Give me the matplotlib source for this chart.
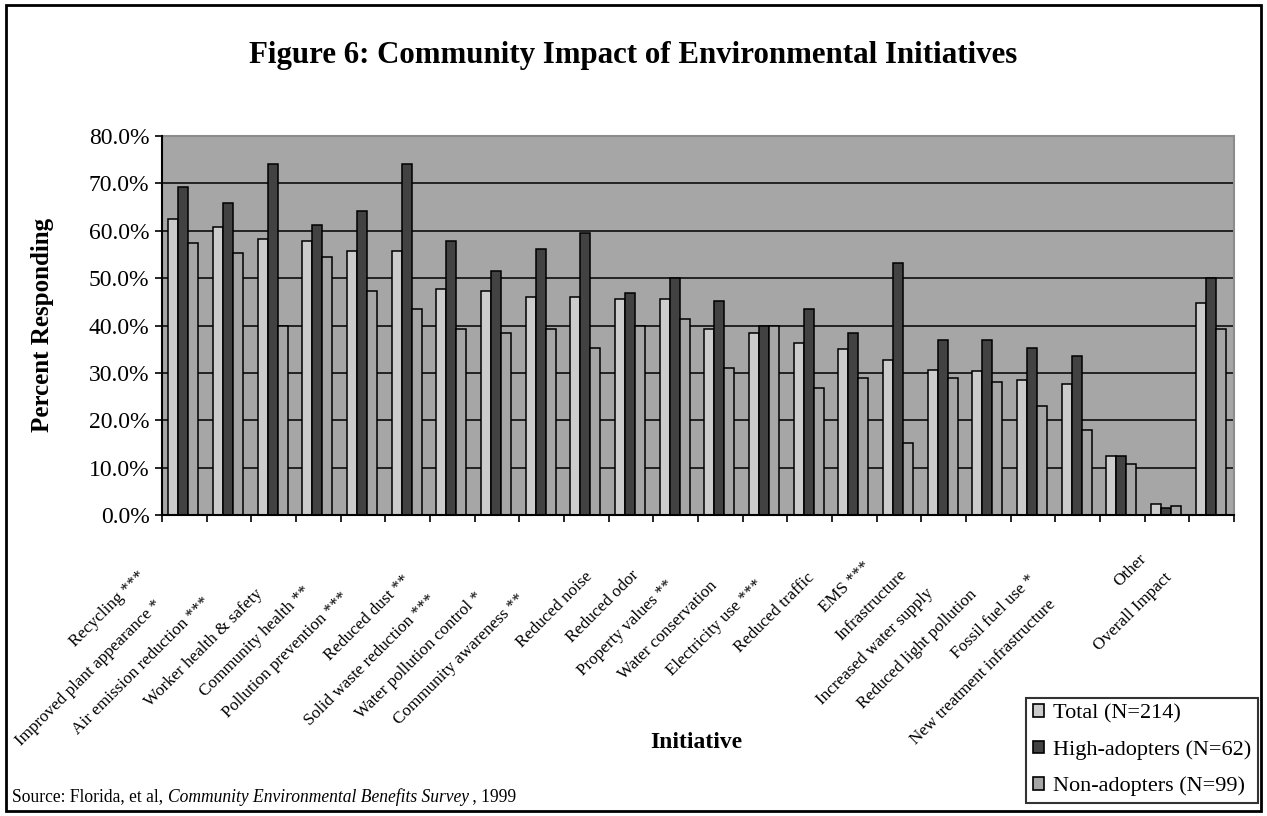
import numpy as np
import matplotlib
matplotlib.use("Agg")
import matplotlib.pyplot as plt
from matplotlib.patches import Patch, Rectangle

plt.rcParams['font.family'] = ['Liberation Serif', 'DejaVu Serif']

# Dados
categorias = ["Recycling ***", "Improved plant appearance *", "Air emission reduction ***",
              "Worker health & safety", "Community health **", "Pollution prevention ***",
              "Reduced dust **", "Solid waste reduction ***", "Water pollution control *",
              "Community awareness **", "Reduced noise", "Reduced odor", "Property values **",
              "Water conservation", "Electricity use ***", "Reduced traffic", "EMS ***",
              "Infrastructure", "Increased water supply", "Reduced light pollution",
              "Fossil fuel use *", "New treatment infrastructure", "Other", "Overall Impact"]
total = [62.5, 60.8, 58.3, 57.9, 55.8, 55.8, 47.6, 47.2, 46.0, 46.0, 45.6, 45.6,
         39.2, 38.4, 36.3, 35.0, 32.8, 30.7, 30.3, 28.6, 27.7, 12.5, 2.3, 44.7]
high = [69.3, 65.9, 74.0, 61.2, 64.2, 74.0, 57.9, 51.4, 56.2, 59.6, 46.8, 50.0,
        45.1, 40.0, 43.4, 38.4, 53.1, 37.0, 37.0, 35.3, 33.6, 12.5, 1.4, 50.0]
non = [57.4, 55.3, 40.0, 54.4, 47.2, 43.4, 39.2, 38.4, 39.2, 35.3, 40.0, 41.3,
       31.1, 40.0, 26.9, 29.0, 15.1, 29.0, 28.1, 23.0, 18.0, 10.8, 1.8, 39.2]
series = ["Total (N=214)", "High-adopters (N=62)", "Non-adopters (N=99)"]
cores = ["#cccccc", "#424242", "#a6a6a6"]
fundo = "#a6a6a6"

W, H = 1267, 816
fig = plt.figure(figsize=(W / 100, H / 100), dpi=100)
ax = fig.add_axes([162 / W, 1 - 515 / H, (1234 - 162) / W, (515 - 136) / H])
ax.set_facecolor(fundo)

x = np.arange(len(categorias))
lb = 0.224
for k, (vals, cor) in enumerate(zip([total, high, non], cores)):
    ax.bar(x + (k - 1) * lb - 0.02, vals, lb, color=cor, edgecolor='black',
           linewidth=1.1, zorder=3)

ax.set_xlim(-0.5, len(categorias) - 0.5)
ax.set_ylim(0, 80)
ax.set_yticks(np.arange(0, 81, 10))
ax.set_yticklabels([f"{v:.1f}%" for v in np.arange(0, 81, 10)], fontsize=17)
ax.set_xticks(np.arange(-0.5, len(categorias), 1))
ax.set_xticklabels([])
ax.tick_params(axis='both', direction='out', length=5, width=1.2, color='black')
ax.tick_params(axis='y', pad=4)
for v in range(10, 80, 10):
    ax.axhline(v, color='black', linewidth=1.1, zorder=1)
for s in ['left', 'bottom']:
    ax.spines[s].set_color('black')
    ax.spines[s].set_linewidth(1.5)
    ax.spines[s].set_zorder(5)
for s in ['top', 'right']:
    ax.spines[s].set_color('#8c8c8c')
    ax.spines[s].set_linewidth(1.5)

# Rotulos das categorias (posicionados como no Excel)
renderer = fig.canvas.get_renderer()
inv = fig.transFigure.inverted()
ybot = ax.transAxes.transform((0, 0))[1]
for i, nome in enumerate(categorias):
    t = fig.text(0, 0, nome, fontsize=12.3, ha='right', va='center',
                 rotation_mode='anchor')
    L = t.get_window_extent(renderer).width
    cx = ax.transData.transform((i, 0))[0]
    ex = cx - 12 - 0.29 * L
    ey = ybot - 30 - 0.29 * L
    fx, fy = inv.transform((ex, ey))
    t.set_position((fx, fy))
    t.set_rotation(45)

fig.text(0.5, 1 - 55 / H, "Figure 6: Community Impact of Environmental Initiatives",
         ha='center', va='center', fontsize=22.2, fontweight='bold')
fig.text(43 / W, 1 - 325 / H, "Percent Responding", rotation=90, ha='center',
         va='center', fontsize=18, fontweight='bold')
fig.text(696 / W, 1 - 742 / H, "Initiative", ha='center', va='center',
         fontsize=17, fontweight='bold')

# Fonte
partes = [("Source: Florida, et al, ", 'normal'),
          ("Community Environmental Benefits Survey", 'italic'),
          (" , 1999", 'normal')]
px = 12
for txt, estilo in partes:
    t = fig.text(px / W, 1 - 797 / H, txt, fontsize=12.65, style=estilo,
                 ha='left', va='center')
    px += t.get_window_extent(renderer).width

handles = [Patch(facecolor=c, edgecolor='black', linewidth=1.2) for c in cores]
leg = fig.legend(handles, series, loc='lower right',
                 bbox_to_anchor=(1258 / W, 1 - 803 / H), fontsize=16,
                 frameon=True, fancybox=False, edgecolor='black',
                 handlelength=0.5, handleheight=0.5, handletextpad=0.4,
                 labelspacing=0.75, borderpad=0.3, borderaxespad=0)
leg.get_frame().set_linewidth(1.5)

fig.patches.append(Rectangle((6 / W, 5 / H), (1261 - 6) / W, (811 - 5) / H,
                             transform=fig.transFigure, fill=False,
                             edgecolor='black', linewidth=2))

fig.savefig("out.png", dpi=100)
